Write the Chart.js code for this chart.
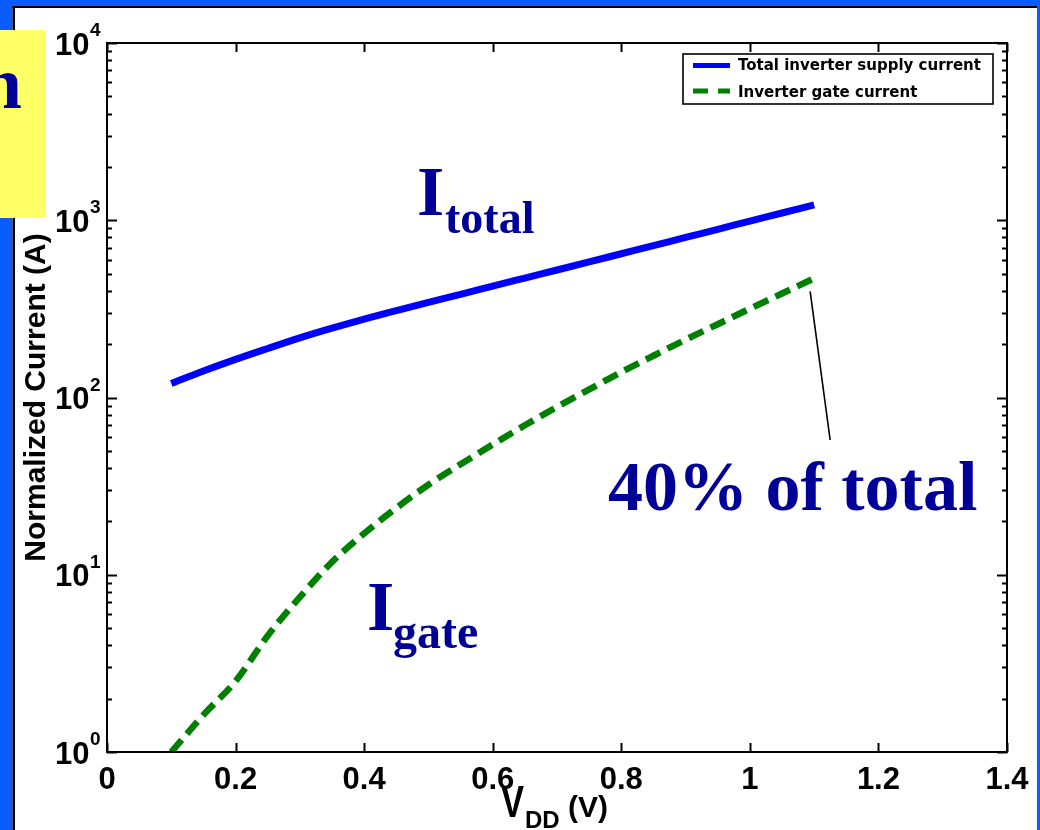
<!DOCTYPE html>
<html>
<head>
<meta charset="utf-8">
<script src="https://cdn.jsdelivr.net/npm/chart.js@4.4.1/dist/chart.umd.min.js"></script>
<style>
  html, body { margin: 0; padding: 0; background: #ffffff; }
  #wrap { position: relative; width: 1040px; height: 830px; }
  canvas { display: block; }
</style>
</head>
<body>
<div id="wrap"><canvas id="chart" width="1040" height="830"></canvas></div>
<script>
// Supply voltage sweep (V)
const vdd = [0.10, 0.15, 0.20, 0.25, 0.30, 0.35, 0.40, 0.45, 0.50, 0.55, 0.60,
             0.65, 0.70, 0.75, 0.80, 0.85, 0.90, 0.95, 1.00, 1.05, 1.10];
// Normalized total inverter supply current (A)
const totalCurrent = [120, 141, 164, 189, 217, 246, 277, 309, 344, 382, 425,
                      472, 524, 582, 647, 719, 800, 889, 989, 1099, 1222];
// Normalized inverter gate current (A)
const gateCurrent = [1.0, 1.62, 2.51, 4.53, 7.48, 11.8, 17.1, 23.8, 32.2, 42.0, 54.3,
                     69.7, 88.5, 111, 139, 172, 212, 259, 317, 386, 470];
// Axis ticks
const xTickValues = [0, 0.2, 0.4, 0.6, 0.8, 1.0, 1.2, 1.4];
const yDecades = [1, 10, 100, 1000, 10000];
const seriesNames = ['Total inverter supply current', 'Inverter gate current'];

const SANS = '"Liberation Sans", Arial, sans-serif';
const SERIF = '"Liberation Serif", "Times New Roman", serif';
const NAVY = '#000099';

function decadeTicks() {
  const out = [];
  yDecades.forEach((d, i) => {
    out.push({ value: d, major: true });
    if (i < yDecades.length - 1) {
      for (let m = 2; m <= 9; m++) out.push({ value: d * m, major: false });
    }
  });
  return out;
}

const slideDecor = {
  id: 'slideDecor',
  beforeDraw(chart) {
    const { ctx, width, height } = chart;
    ctx.save();
    ctx.fillStyle = '#ffffff';
    ctx.fillRect(0, 0, width, height);
    // slide background edges
    ctx.fillStyle = '#0a5cff';
    ctx.fillRect(0, 0, width, 6);
    ctx.fillRect(0, 0, 12.5, height);
    ctx.fillRect(1037, 0, 3, height);
    ctx.fillStyle = '#000000';
    ctx.fillRect(12.5, 6, 2.5, height - 6);
    ctx.fillRect(12.5, 6, 1037 - 12.5, 2);
    ctx.restore();
  },
  afterDraw(chart) {
    const { ctx, chartArea: a } = chart;
    const xs = chart.scales.x, ys = chart.scales.y;
    ctx.save();

    // axes box
    ctx.strokeStyle = '#000';
    ctx.lineWidth = 2;
    ctx.strokeRect(a.left, a.top, a.right - a.left, a.bottom - a.top);

    // inward ticks
    ctx.beginPath();
    xs.ticks.forEach(t => {
      const px = Math.round(xs.getPixelForValue(t.value)) + 0.5;
      ctx.moveTo(px, a.bottom); ctx.lineTo(px, a.bottom - 9);
      ctx.moveTo(px, a.top); ctx.lineTo(px, a.top + 9);
    });
    ys.ticks.forEach(t => {
      const py = Math.round(ys.getPixelForValue(t.value)) + 0.5;
      const len = t.major ? 10 : 5;
      ctx.moveTo(a.left, py); ctx.lineTo(a.left + len, py);
      ctx.moveTo(a.right, py); ctx.lineTo(a.right - len, py);
    });
    ctx.stroke();

    // x tick labels
    ctx.fillStyle = '#000';
    ctx.font = 'bold 31px ' + SANS;
    ctx.textAlign = 'center';
    ctx.textBaseline = 'alphabetic';
    xs.ticks.forEach(t => {
      const px = xs.getPixelForValue(t.value);
      ctx.fillText(String(+t.value.toFixed(1)), px, a.bottom + 37);
    });

    // y tick labels: 10 with exponent
    ys.ticks.filter(t => t.major).forEach(t => {
      const py = ys.getPixelForValue(t.value);
      const exp = Math.round(Math.log10(t.value));
      ctx.textAlign = 'left';
      ctx.font = 'bold 31px ' + SANS;
      ctx.fillText('10', 55, py + 11.5);
      const w = ctx.measureText('10').width;
      ctx.font = 'bold 19px ' + SANS;
      ctx.fillText(String(exp), 55 + w + 0.5, py - 7);
    });

    // y axis title
    ctx.save();
    ctx.translate(45, (a.top + a.bottom) / 2);
    ctx.rotate(-Math.PI / 2);
    ctx.textAlign = 'center';
    ctx.font = 'bold 30px ' + SANS;
    ctx.fillText('Normalized Current (A)', 0, 0);
    ctx.restore();

    // x axis title: V_DD (V)
    ctx.textAlign = 'left';
    ctx.save();
    ctx.translate(501, 816.5);
    ctx.scale(1.08, 1.4);
    ctx.font = 'bold 32px ' + SANS;
    ctx.fillText('V', 0, 0);
    ctx.restore();
    ctx.font = 'bold 24px ' + SANS;
    ctx.fillText('DD', 525, 828);
    ctx.font = 'bold 30px ' + SANS;
    ctx.fillText('(V)', 568, 816.5);

    // curve annotations
    ctx.fillStyle = NAVY;
    ctx.font = 'bold 70px ' + SERIF;
    ctx.fillText('I', 417, 215);
    ctx.font = 'bold 46px ' + SERIF;
    ctx.fillText('total', 445, 233);
    ctx.font = 'bold 70px ' + SERIF;
    ctx.fillText('I', 367, 630);
    ctx.font = 'bold 48px ' + SERIF;
    ctx.fillText('gate', 393, 648);
    ctx.font = 'bold 70px ' + SERIF;
    ctx.fillText('40% of total', 608, 510);

    // pointer from the gate-current end point to its note
    const gx = xs.getPixelForValue(vdd[vdd.length - 1]);
    const gy = ys.getPixelForValue(gateCurrent[gateCurrent.length - 1]);
    ctx.strokeStyle = '#000';
    ctx.lineWidth = 1.6;
    ctx.beginPath();
    ctx.moveTo(gx - 4, gy + 13);
    ctx.lineTo(gx + 16, 440);
    ctx.stroke();

    // legend
    const lx = 683, ly = 54, lw = 310, lh = 50;
    ctx.fillStyle = '#fff';
    ctx.fillRect(lx, ly, lw, lh);
    ctx.strokeStyle = '#000';
    ctx.lineWidth = 1.6;
    ctx.strokeRect(lx, ly, lw, lh);
    chart.data.datasets.forEach((ds, i) => {
      const yy = i === 0 ? 65.5 : 91;
      ctx.strokeStyle = ds.borderColor;
      ctx.lineWidth = 5;
      ctx.setLineDash(ds.borderDash && ds.borderDash.length ? [15, 10] : []);
      ctx.beginPath();
      ctx.moveTo(693, yy);
      ctx.lineTo(730, yy);
      ctx.stroke();
      ctx.setLineDash([]);
      ctx.fillStyle = '#000';
      ctx.font = 'bold 15px "DejaVu Sans", sans-serif';
      ctx.textBaseline = 'alphabetic';
      ctx.fillText(ds.label, 738, yy + 4 + (i === 0 ? 0 : 2));
    });

    // highlighted title fragment on the slide
    ctx.fillStyle = '#ffff66';
    ctx.fillRect(0, 30, 45, 188);
    ctx.fillStyle = NAVY;
    ctx.font = 'bold 74px ' + SERIF;
    ctx.textAlign = 'right';
    ctx.fillText('n', 22, 108);

    ctx.restore();
  }
};

new Chart(document.getElementById('chart'), {
  type: 'line',
  data: {
    datasets: [
      {
        label: seriesNames[0],
        data: vdd.map((v, i) => ({ x: v, y: totalCurrent[i] })),
        borderColor: '#0000ff',
        borderWidth: 7,
        pointRadius: 0,
        cubicInterpolationMode: 'monotone',
        fill: false
      },
      {
        label: seriesNames[1],
        data: vdd.map((v, i) => ({ x: v, y: gateCurrent[i] })),
        borderColor: '#008000',
        borderWidth: 6.5,
        borderDash: [16, 8],
        pointRadius: 0,
        cubicInterpolationMode: 'monotone',
        fill: false
      }
    ]
  },
  options: {
    responsive: false,
    animation: false,
    devicePixelRatio: 1,
    layout: { padding: { top: 43, right: 33, bottom: 0, left: 0 } },
    plugins: { legend: { display: false }, tooltip: { enabled: false } },
    scales: {
      x: {
        type: 'linear',
        min: 0,
        max: 1.4,
        grid: { display: false },
        border: { display: false },
        ticks: { display: false },
        afterBuildTicks(s) { s.ticks = xTickValues.map(v => ({ value: v })); },
        afterFit(s) { s.height = 78; }
      },
      y: {
        type: 'logarithmic',
        min: 1,
        max: 10000,
        grid: { display: false },
        border: { display: false },
        ticks: { display: false },
        afterBuildTicks(s) { s.ticks = decadeTicks(); },
        afterFit(s) { s.width = 107; }
      }
    }
  },
  plugins: [slideDecor]
});
</script>
</body>
</html>
